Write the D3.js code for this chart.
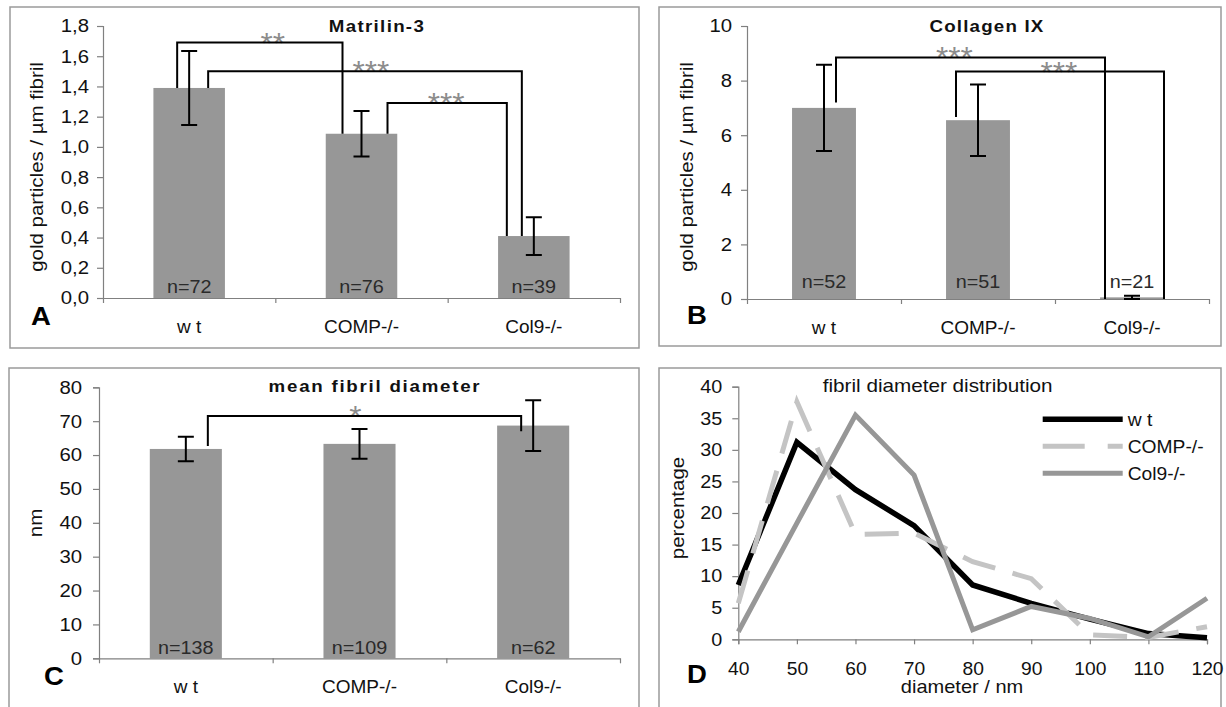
<!DOCTYPE html>
<html>
<head>
<meta charset="utf-8">
<script src="https://cdn.jsdelivr.net/npm/d3@7"></script>
<style>
  body { margin: 0; background: #fff; }
  svg { display: block; font-family: "Liberation Sans", Arial, sans-serif; }
</style>
</head>
<body>
<div id="chart"></div>
<script>
// ---- data ----
const categories = ['w t', 'COMP-/-', 'Col9-/-'];

const matrilinMean = [1.39, 1.087, 0.41];
const matrilinErr = [0.245, 0.151, 0.125];
const matrilinN = ['n=72', 'n=76', 'n=39'];

const collagenMean = [7.0, 6.55, 0.06];
const collagenErr = [1.58, 1.31, 0.06];
const collagenN = ['n=52', 'n=51', 'n=21'];

const diameterMean = [61.8, 63.3, 68.7];
const diameterErr = [3.6, 4.4, 7.5];
const diameterN = ['n=138', 'n=109', 'n=62'];

// significance brackets: [from, to, start value, top value, end value, label]
const matrilinBrackets = [
  [0, 1, 1.39, 1.69, 1.087, '**'],
  [0, 2, 1.39, 1.5, 0.41, '***'],
  [1, 2, 1.087, 1.29, 0.41, '***'],
];
const collagenBrackets = [
  [0, 2, 7.2, 8.85, 0, '***'],
  [1, 2, 6.67, 8.33, 0, '***'],
];
const diameterBrackets = [[0, 2, 62.7, 71.5, 67.0, '*']];

const diameters = [40, 50, 60, 70, 80, 90, 100, 110, 120];
const wtPct = [8.6, 31.2, 23.7, 18.0, 8.6, 5.7, 3.2, 0.9, 0.25];
const compPct = [5.7, 37.6, 16.6, 16.8, 12.3, 9.6, 0.7, 0.3, 2.0];
const col9Pct = [1.2, 18.4, 35.5, 26.0, 1.5, 5.2, 3.3, 0.4, 6.5];
const seriesNames = ['w t', 'COMP-/-', 'Col9-/-'];

// ---- drawing ----
const [W, H, SX] = [1226, 707, 1.1];
const BAR = '#979797';
const AXIS = '#808080';

const svg = d3.select('#chart').append('svg').attr('width', W).attr('height', H);

const commaFmt = d3
  .formatLocale({ decimal: ',', thousands: '.', grouping: [3], currency: ['', ''] })
  .format('.1f');

const txt = (g, x, y, s, o = {}) =>
  g
    .append('text')
    .attr('transform', `translate(${x},${y})${o.rotate ? ' rotate(-90)' : ''} scale(${o.sx ?? SX},1)`)
    .attr('text-anchor', o.anchor || 'middle')
    .style('font-size', (o.size || 18) + 'px')
    .style('font-weight', o.weight || 'normal')
    .style('letter-spacing', o.ls ? o.ls + 'px' : null)
    .attr('fill', o.fill || '#111')
    .text(s);

const styleAxis = (sel, size) => {
  sel.attr('font-family', null).attr('font-size', null);
  sel.select('.domain').attr('stroke', AXIS).attr('stroke-width', 1.2);
  sel.selectAll('.tick line').attr('stroke', AXIS).attr('stroke-width', 1.2);
  sel
    .selectAll('.tick text')
    .attr('transform', `scale(${SX},1)`)
    .style('font-size', size + 'px')
    .attr('fill', '#111');
};

// panel frames
[
  [10, 7, 629, 341],
  [659, 7, 562, 339],
  [9, 368, 630, 345],
  [659, 368, 562, 345],
].forEach(([x, y, w, h]) =>
  svg
    .append('rect')
    .attr('x', x)
    .attr('y', y)
    .attr('width', w)
    .attr('height', h)
    .attr('fill', 'none')
    .attr('stroke', '#9a9a9a')
    .attr('stroke-width', 1.5)
);

const barPanel = (c) => {
  const g = svg.append('g');
  const x = d3
    .scaleBand()
    .domain(categories)
    .range([c.x0, c.x1])
    .paddingInner(0.585)
    .paddingOuter(0.2925);
  const y = d3.scaleLinear().domain([0, c.max]).range([c.yBase, c.yTop]);
  const cx = (i) => x(categories[i]) + x.bandwidth() / 2;

  // bars
  g.selectAll('rect.bar')
    .data(c.mean)
    .join('rect')
    .attr('class', 'bar')
    .attr('x', (d, i) => x(categories[i]))
    .attr('width', x.bandwidth())
    .attr('y', (d) => y(d))
    .attr('height', (d) => c.yBase - y(d))
    .attr('fill', BAR);

  // n labels
  c.nLab.forEach((s, i) => txt(g, cx(i), c.yBase - c.nDy, s, { size: 18, fill: '#2a2a2a' }));

  // y axis
  const ya = g
    .append('g')
    .attr('transform', `translate(${c.x0},0)`)
    .call(
      d3
        .axisLeft(y)
        .tickValues(d3.range(0, c.max + c.step / 2, c.step))
        .tickSize(6)
        .tickPadding(c.yPad)
        .tickFormat(c.fmt)
    );
  styleAxis(ya, 18.5);

  // x axis with category boundary ticks
  const xb = d3.scaleLinear().domain([0, 3]).range([c.x0, c.x1]);
  const xa = g
    .append('g')
    .attr('transform', `translate(0,${c.yBase})`)
    .call(d3.axisBottom(xb).tickValues([0, 1, 2, 3]).tickSize(5).tickSizeOuter(0).tickFormat(''));
  styleAxis(xa, 18);
  categories.forEach((s, i) => txt(g, cx(i), c.yBase + 35, s, { size: 19, sx: 1 }));

  // error bars
  const eb = g.append('g').attr('stroke', '#000').attr('stroke-width', 2).attr('fill', 'none');
  c.mean.forEach((m, i) => {
    const [hi, lo] = [y(m + c.err[i]), y(m - c.err[i])];
    eb.append('path').attr('d', `M${cx(i)},${hi}V${lo}M${cx(i) - 8},${hi}H${cx(i) + 8}M${cx(i) - 8},${lo}H${cx(i) + 8}`);
  });

  // significance brackets
  c.brackets.forEach(([a, b, v0, vt, v1, lab], k) => {
    const [dA, dB, dS] = c.offsets[k];
    const [xA, xB] = [cx(a) + dA, cx(b) + dB];
    txt(g, (xA + xB) / 2 + dS, y(vt) + 10, lab, { size: 30, fill: '#8c8c8c', sx: 1.05 });
    g.append('path')
      .attr('d', `M${xA},${y(v0)}V${y(vt)}H${xB}V${y(v1)}`)
      .attr('fill', 'none')
      .attr('stroke', '#000')
      .attr('stroke-width', 2);
  });

  // titles and labels
  txt(g, c.titleX, c.titleY, c.title, { size: 17, weight: 'bold', ls: c.titleLs });
  txt(g, c.yLabX, c.yLabY, c.yLabel, { rotate: true, size: 18.6 });
  txt(g, c.letterX, c.letterY, c.letter, { anchor: 'start', size: 25, weight: 'bold', fill: '#000' });
};

barPanel({
  x0: 103, x1: 620, yTop: 26, yBase: 298, max: 1.8, step: 0.2, fmt: commaFmt, yPad: 6.7,
  mean: matrilinMean, err: matrilinErr, nLab: matrilinN, nDy: 5,
  brackets: matrilinBrackets, offsets: [[-12, -19, 13], [19, -12, 6], [26, -27, -1]],
  title: 'Matrilin-3', titleX: 377, titleY: 31.5, titleLs: 1.2,
  yLabel: 'gold particles / µm fibril', yLabX: 43, yLabY: 167,
  letter: 'A', letterX: 31, letterY: 325,
});

barPanel({
  x0: 747, x1: 1209, yTop: 26, yBase: 299, max: 10, step: 2, fmt: d3.format('d'), yPad: 7.6,
  mean: collagenMean, err: collagenErr, nLab: collagenN, nDy: 11,
  brackets: collagenBrackets, offsets: [[12, -27, -16], [-22, 32, -1]],
  title: 'Collagen IX', titleX: 987, titleY: 32, titleLs: 1.1,
  yLabel: 'gold particles / µm fibril', yLabX: 693, yLabY: 167,
  letter: 'B', letterX: 687, letterY: 324,
});

barPanel({
  x0: 99, x1: 620, yTop: 387.3, yBase: 658.3, max: 80, step: 10, fmt: d3.format('d'), yPad: 9.4,
  mean: diameterMean, err: diameterErr, nLab: diameterN, nDy: 4,
  brackets: diameterBrackets, offsets: [[22, -12, -9]],
  title: 'mean fibril diameter', titleX: 375, titleY: 392, titleLs: 1.6,
  yLabel: 'nm', yLabX: 42, yLabY: 523,
  letter: 'C', letterX: 44, letterY: 685,
});

// ---- panel D: line chart ----
{
  const g = svg.append('g');
  const x = d3.scaleLinear().domain([40, 120]).range([738.3, 1207]);
  const y = d3.scaleLinear().domain([0, 40]).range([639.3, 386.7]);

  const ya = g
    .append('g')
    .attr('transform', `translate(${x(40)},0)`)
    .call(d3.axisLeft(y).tickValues(d3.range(0, 41, 5)).tickSize(6).tickPadding(8.5));
  styleAxis(ya, 18);
  const xa = g
    .append('g')
    .attr('transform', `translate(0,${y(0)})`)
    .call(d3.axisBottom(x).tickValues(diameters).tickSize(5).tickPadding(18));
  styleAxis(xa, 17.5);

  const series = [
    { name: seriesNames[0], values: wtPct, stroke: '#000', width: 5.5, dash: null },
    { name: seriesNames[1], values: compPct, stroke: '#c4c4c4', width: 5, dash: '34,18' },
    { name: seriesNames[2], values: col9Pct, stroke: '#979797', width: 5, dash: null },
  ];
  const line = d3
    .line()
    .x((d, i) => x(diameters[i]))
    .y((d) => y(d));

  series.forEach((s) =>
    g.append('path')
      .attr('d', line(s.values))
      .attr('fill', 'none')
      .attr('stroke', s.stroke)
      .attr('stroke-width', s.width)
      .attr('stroke-dasharray', s.dash)
      .attr('stroke-linejoin', 'miter')
  );

  // legend
  series.forEach((s, i) => {
    const ly = 419.3 + i * 27;
    g.append('line')
      .attr('x1', 1042.7)
      .attr('x2', 1122.7)
      .attr('y1', ly)
      .attr('y2', ly)
      .attr('stroke', s.stroke)
      .attr('stroke-width', s.width)
      .attr('stroke-dasharray', s.dash ? '42,23' : null);
    txt(g, 1127.7, ly + 6.5, s.name, { anchor: 'start', size: 17.5 });
  });

  txt(g, 937.7, 391.7, 'fibril diameter distribution', { size: 18, sx: 1.15 });
  txt(g, 684, 508, 'percentage', { rotate: true, size: 18.6 });
  txt(g, 962, 693, 'diameter / nm', { size: 18.2 });
  txt(g, 687, 683, 'D', { anchor: 'start', size: 25, weight: 'bold', fill: '#000' });
}
</script>
</body>
</html>
